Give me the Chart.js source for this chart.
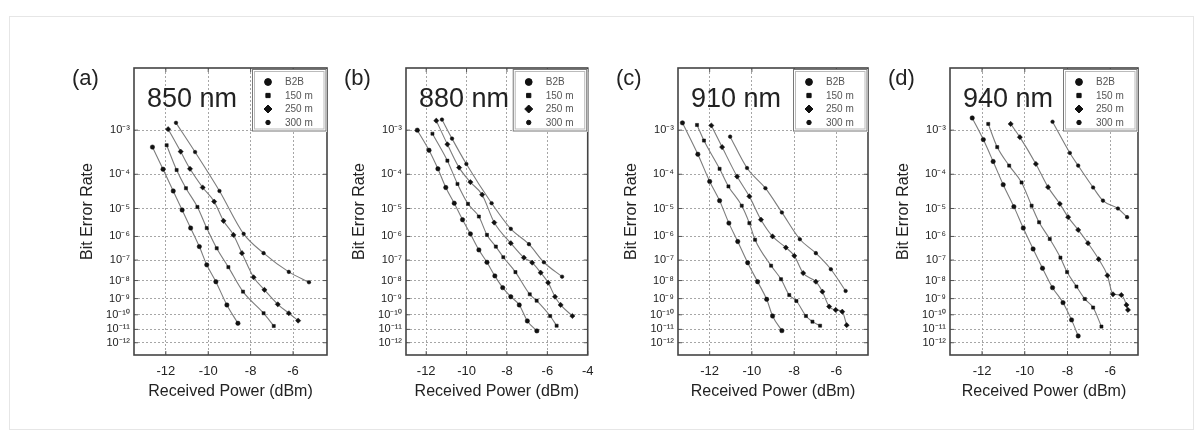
<!DOCTYPE html>
<html>
<head>
<meta charset="utf-8">
<script src="https://cdn.jsdelivr.net/npm/chart.js@4"></script>
<style>
  body { margin: 0; background: #fff; }
  #wrap { position: relative; width: 1203px; height: 440px; overflow: hidden; }
  #frame { position: absolute; left: 9px; top: 16px; width: 1183px; height: 412px; border: 1px solid #e6e6e6; }
  canvas { position: absolute; top: 0; }
</style>
</head>
<body>
<div id="wrap">
  <div id="frame"></div>
  <canvas id="pa" width="273" height="440" style="left:59px"></canvas>
  <canvas id="pb" width="271" height="440" style="left:331px"></canvas>
  <canvas id="pc" width="270" height="440" style="left:603px"></canvas>
  <canvas id="pd" width="268" height="440" style="left:875px"></canvas>
</div>
<script>
// log10(BER), received power in dBm
const seriesLabels = ['B2B', '150 m', '250 m', '300 m'];
const berTicks = [3, 4, 5, 6, 7, 8, 9, 10, 11, 12]; // 10^-n

// (a) 850 nm
const powA_b2b = [-12.63, -12.13, -11.65, -11.23, -10.83, -10.42, -10.07, -9.64, -9.12, -8.6];
const berA_b2b = [-3.35, -3.87, -4.46, -5.05, -5.68, -6.41, -7.22, -8.06, -9.38, -10.57];
const powA_150 = [-11.96, -11.49, -11.05, -10.51, -10.07, -9.6, -9.05, -8.36, -7.39, -6.91];
const berA_150 = [-3.31, -3.89, -4.38, -4.95, -5.68, -6.48, -7.33, -8.6, -9.9, -10.76];
const powA_250 = [-11.89, -11.3, -10.86, -10.26, -9.72, -9.28, -8.81, -8.41, -7.86, -7.35, -6.72, -6.2, -5.76];
const berA_250 = [-2.98, -3.45, -3.86, -4.36, -4.78, -5.42, -5.94, -6.69, -7.83, -8.5, -9.34, -9.9, -10.39];
const powA_300 = [-11.52, -10.62, -9.47, -8.33, -7.39, -6.2, -5.25];
const berA_300 = [-2.86, -3.46, -4.46, -5.9, -6.69, -7.56, -8.09];

// (b) 880 nm
const powB_b2b = [-12.44, -11.86, -11.42, -11.03, -10.61, -10.2, -9.81, -9.39, -8.99, -8.6, -8.21, -7.81, -7.39, -6.99, -6.52];
const berB_b2b = [-3.0, -3.42, -3.86, -4.36, -4.83, -5.38, -5.9, -6.55, -7.1, -7.76, -8.38, -8.89, -9.38, -10.41, -11.11];
const powB_150 = [-11.69, -10.95, -10.45, -9.93, -9.39, -8.99, -8.55, -8.18, -7.58, -6.87, -6.53, -5.86, -5.54];
const berB_150 = [-3.07, -3.66, -4.26, -4.85, -5.27, -5.94, -6.41, -6.87, -7.57, -8.75, -9.12, -10.08, -10.74];
const powB_250 = [-11.5, -10.95, -10.37, -9.81, -9.23, -8.63, -7.81, -7.16, -6.75, -6.33, -5.96, -5.62, -5.34, -4.76];
const berB_250 = [-2.82, -3.29, -3.83, -4.21, -4.57, -5.48, -6.27, -6.89, -7.12, -7.6, -8.11, -8.89, -9.38, -10.08];
const powB_300 = [-11.22, -10.72, -10.01, -8.76, -7.81, -6.91, -6.17, -5.27];
const berB_300 = [-2.8, -3.17, -3.74, -4.83, -5.71, -6.31, -7.1, -7.8];

// (c) 910 nm
const powC_b2b = [-13.29, -12.56, -12.0, -11.53, -11.09, -10.67, -10.2, -9.73, -9.3, -9.02, -8.58];
const berC_b2b = [-2.86, -3.51, -4.19, -4.75, -5.5, -6.2, -7.12, -8.06, -9.04, -10.08, -11.09];
const powC_150 = [-12.6, -12.27, -11.53, -11.11, -10.48, -10.12, -9.85, -9.09, -8.62, -8.23, -7.89, -7.44, -7.13, -6.77];
const berC_150 = [-2.9, -3.21, -3.86, -4.33, -4.91, -5.5, -6.13, -7.26, -7.93, -8.79, -9.14, -10.08, -10.46, -10.74];
const powC_250 = [-11.92, -11.41, -10.7, -10.12, -9.57, -9.02, -8.39, -7.99, -7.57, -6.97, -6.66, -6.34, -6.03, -5.72, -5.51];
const berC_250 = [-2.91, -3.35, -4.06, -4.62, -5.38, -6.0, -6.45, -6.81, -7.62, -8.06, -8.6, -9.48, -9.69, -9.8, -10.7];
const powC_300 = [-11.03, -10.23, -9.36, -8.58, -7.73, -6.97, -6.26, -5.56];
const berC_300 = [-3.13, -3.84, -4.38, -5.13, -6.11, -6.69, -7.43, -8.56];

// (d) 940 nm
const powD_b2b = [-12.46, -11.94, -11.48, -11.01, -10.51, -10.07, -9.61, -9.17, -8.7, -8.21, -7.81, -7.5];
const berD_b2b = [-2.77, -3.19, -3.68, -4.28, -4.94, -5.68, -6.51, -7.38, -8.38, -9.24, -10.34, -11.48];
const powD_150 = [-11.71, -11.29, -10.73, -10.15, -9.68, -9.33, -8.83, -8.33, -8.02, -7.58, -7.19, -6.8, -6.41];
const berD_150 = [-2.88, -3.35, -3.78, -4.22, -4.91, -5.47, -6.1, -6.89, -7.57, -8.32, -9.02, -9.54, -10.8];
const powD_250 = [-10.66, -10.23, -9.48, -8.91, -8.36, -7.97, -7.5, -7.04, -6.54, -6.13, -5.87, -5.48, -5.24, -5.17];
const berD_250 = [-2.88, -3.14, -3.74, -4.35, -4.85, -5.29, -5.75, -6.27, -6.96, -7.74, -8.75, -8.79, -9.38, -9.69];
const powD_300 = [-8.7, -7.89, -7.5, -6.8, -6.34, -5.64, -5.21];
const berD_300 = [-2.84, -3.48, -3.78, -4.36, -4.75, -5.0, -5.29];

const FONT = "'Liberation Sans', Arial, Helvetica, sans-serif";
Chart.defaults.font.family = FONT;
Chart.defaults.color = '#222';

const SUP = { '0': '⁰', '1': '¹', '2': '²', '3': '³', '4': '⁴', '5': '⁵', '6': '⁶', '7': '⁷', '8': '⁸', '9': '⁹' };
function expLabel(n) {
  return '10⁻' + String(n).split('').map(d => SUP[d]).join('');
}

// BER axis: log10(-log10(BER))
function berY(logBer) {
  return Math.log10(-logBer);
}

const markStyles = [
  { pointStyle: 'circle', radius: 2.2 },
  { pointStyle: 'rect', radius: 2.2 },
  { pointStyle: 'rectRot', radius: 2.6 },
  { pointStyle: 'circle', radius: 1.8 }
];
const legendRadius = [3.4, 3.0, 4.0, 2.2];

// frame, inner ticks, legend box and panel titles
const panelDeco = {
  id: 'panelDeco',
  afterDraw(chart, args, opts) {
    const { ctx, chartArea: ca, scales } = chart;
    ctx.save();

    ctx.strokeStyle = '#555';
    ctx.lineWidth = 1;
    ctx.beginPath();
    scales.x.ticks.forEach(t => {
      const px = scales.x.getPixelForValue(t.value);
      ctx.moveTo(px, ca.top); ctx.lineTo(px, ca.top + 4);
      ctx.moveTo(px, ca.bottom); ctx.lineTo(px, ca.bottom - 4);
    });
    scales.y.ticks.forEach(t => {
      const py = scales.y.getPixelForValue(t.value);
      ctx.moveTo(ca.left, py); ctx.lineTo(ca.left + 4, py);
      ctx.moveTo(ca.right, py); ctx.lineTo(ca.right - 4, py);
    });
    ctx.stroke();

    ctx.strokeStyle = '#444';
    ctx.lineWidth = 1.6;
    ctx.strokeRect(ca.left, ca.top, ca.right - ca.left, ca.bottom - ca.top);

    // legend
    const bw = 75, bh = 63;
    const bx = ca.right - bw, by = ca.top + 1;
    ctx.fillStyle = '#fff';
    ctx.fillRect(bx, by, bw, bh);
    ctx.strokeStyle = '#777';
    ctx.lineWidth = 1;
    ctx.strokeRect(bx + 0.5, by + 0.5, bw - 1.5, bh - 1.5);
    ctx.strokeStyle = '#bbb';
    ctx.strokeRect(bx + 2.5, by + 2.5, bw - 5.5, bh - 5.5);
    chart.data.datasets.forEach((ds, i) => {
      const ly = by + 13 + i * 13.5;
      ctx.fillStyle = '#111';
      ctx.strokeStyle = '#111';
      Chart.helpers.drawPoint(ctx, {
        pointStyle: markStyles[i].pointStyle,
        radius: legendRadius[i],
        rotation: 0,
        borderWidth: 1
      }, bx + 16, ly);
      ctx.fillStyle = '#555';
      ctx.font = '10px ' + FONT;
      ctx.textAlign = 'left';
      ctx.textBaseline = 'middle';
      ctx.fillText(ds.label, bx + 33, ly + 0.5);
    });

    // panel tag and wavelength
    ctx.fillStyle = '#222';
    ctx.textBaseline = 'alphabetic';
    ctx.textAlign = 'left';
    ctx.font = '22px ' + FONT;
    ctx.fillText(opts.tag, ca.left - 62, 85);
    ctx.font = '27px ' + FONT;
    ctx.fillText(opts.wavelength, ca.left + 13, 106.5);
    ctx.restore();
  }
};

function makePanel(id, tag, wavelength, xMin, xMax, xTicks, pows, bers) {
  const datasets = pows.map((pw, i) => ({
    label: seriesLabels[i],
    data: pw.map((x, k) => ({ x: x, y: berY(bers[i][k]) })),
    borderColor: '#7c7c7c',
    borderWidth: 1.1,
    cubicInterpolationMode: 'monotone',
    pointStyle: markStyles[i].pointStyle,
    pointRadius: markStyles[i].radius,
    pointBackgroundColor: '#111',
    pointBorderColor: '#111',
    pointBorderWidth: 0.5,
    fill: false
  }));

  return new Chart(document.getElementById(id), {
    type: 'line',
    data: { datasets: datasets },
    options: {
      responsive: false,
      animation: false,
      devicePixelRatio: 1,
      layout: { padding: { top: 68, right: 5, left: 0, bottom: 0 } },
      scales: {
        x: {
          type: 'linear',
          min: xMin,
          max: xMax,
          afterBuildTicks: s => { s.ticks = xTicks.map(v => ({ value: v })); },
          afterFit: s => { s.height = 85; },
          ticks: { font: { size: 13 }, padding: 8.5, color: '#222' },
          grid: { color: '#a6a6a6', lineWidth: 1, drawTicks: false },
          border: { display: false, dash: [2, 2] },
          title: {
            display: true,
            text: 'Received Power (dBm)',
            font: { size: 16 },
            color: '#222',
            padding: { top: 0, bottom: 38.4 }
          }
        },
        y: {
          type: 'linear',
          reverse: true,
          min: Math.log10(2),
          max: Math.log10(13),
          afterBuildTicks: s => { s.ticks = berTicks.map(n => ({ value: Math.log10(n) })); },
          afterFit: s => { s.width = 75; },
          ticks: {
            autoSkip: false,
            font: { size: 11 },
            padding: 4,
            color: '#222',
            callback: v => expLabel(Math.round(Math.pow(10, v)))
          },
          grid: { color: '#a6a6a6', lineWidth: 1, drawTicks: false },
          border: { display: false, dash: [2, 2] },
          title: {
            display: true,
            text: 'Bit Error Rate',
            font: { size: 16 },
            color: '#222',
            padding: { top: 19.4, bottom: 0 }
          }
        }
      },
      plugins: {
        legend: { display: false },
        tooltip: { enabled: false },
        panelDeco: { tag: tag, wavelength: wavelength }
      }
    },
    plugins: [panelDeco]
  });
}

makePanel('pa', '(a)', '850 nm', -13.5, -4.4, [-12, -10, -8, -6],
  [powA_b2b, powA_150, powA_250, powA_300], [berA_b2b, berA_150, berA_250, berA_300]);
makePanel('pb', '(b)', '880 nm', -13, -4, [-12, -10, -8, -6, -4],
  [powB_b2b, powB_150, powB_250, powB_300], [berB_b2b, berB_150, berB_250, berB_300]);
makePanel('pc', '(c)', '910 nm', -13.5, -4.5, [-12, -10, -8, -6],
  [powC_b2b, powC_150, powC_250, powC_300], [berC_b2b, berC_150, berC_250, berC_300]);
makePanel('pd', '(d)', '940 nm', -13.5, -4.7, [-12, -10, -8, -6],
  [powD_b2b, powD_150, powD_250, powD_300], [berD_b2b, berD_150, berD_250, berD_300]);
</script>
</body>
</html>
